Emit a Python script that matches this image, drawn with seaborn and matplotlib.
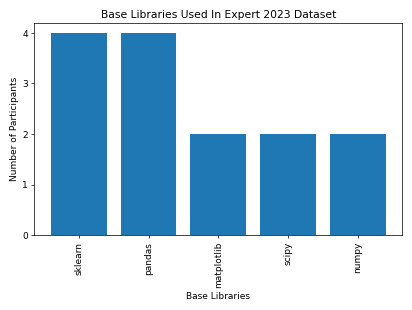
import pandas as pd
import matplotlib
matplotlib.use('Agg')
import matplotlib.pyplot as plt
import seaborn as sns

libraries = ['sklearn', 'pandas', 'matplotlib', 'scipy', 'numpy']
participants = [4, 4, 2, 2, 2]

df = pd.DataFrame({'library': libraries, 'count': participants})

fig, ax = plt.subplots(figsize=(6.4, 4.82), dpi=64.375)
sns.barplot(data=df, x='library', y='count', color='#1f77b4', saturation=1,
            width=0.8, ax=ax)
ax.set_xlim(-0.64, 4.64)
ax.set_ylim(0, 4.2)
ax.set_yticks([0, 1, 2, 3, 4])
ax.set_title('Base Libraries Used In Expert 2023 Dataset')
ax.set_xlabel('Base Libraries')
ax.set_ylabel('Number of Participants')
ax.tick_params(axis='x', labelrotation=90)
plt.tight_layout()
plt.savefig('out.png', dpi=64.375)
